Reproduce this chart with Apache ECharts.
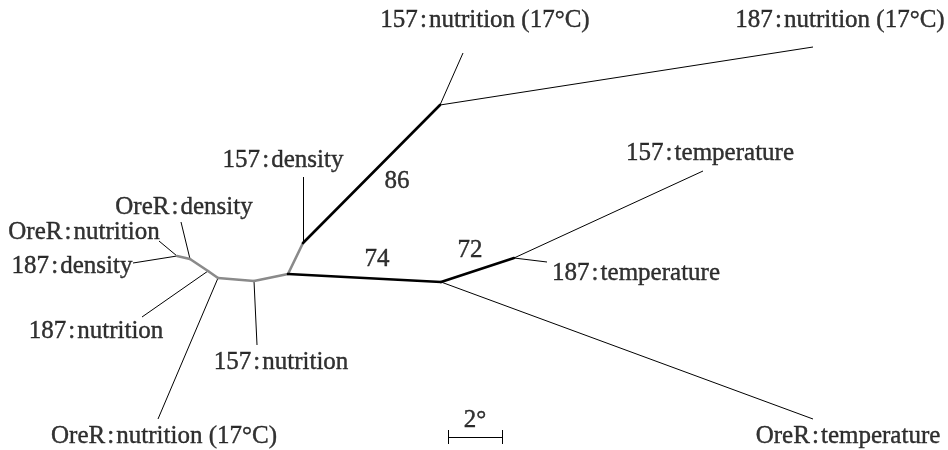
<!DOCTYPE html>
<html>
<head>
<meta charset="utf-8">
<script src="https://cdn.jsdelivr.net/npm/echarts@6/dist/echarts.min.js"></script>
<style>
  html, body { margin: 0; padding: 0; background: #fff; }
  #echarts { width: 948px; height: 450px; }
</style>
</head>
<body>
<div id="echarts"></div>
<script>
// tree drawn in plot units, 27 units = 1 degree
var unitsPerDeg = 27
var sep = '\u200a:\u200a'

// leaves: name, tip position, internal node it hangs from, label centre
var leafNames = ['OreR' + sep + 'nutrition', '187' + sep + 'density', 'OreR' + sep + 'density',
    '187' + sep + 'nutrition', 'OreR' + sep + 'nutrition (17°C)', '157' + sep + 'nutrition',
    '157' + sep + 'density', '157' + sep + 'nutrition (17°C)', '187' + sep + 'nutrition (17°C)',
    '157' + sep + 'temperature', '187' + sep + 'temperature', 'OreR' + sep + 'temperature']
var leafTips = [[159, 241], [133, 263], [181, 222], [142, 317], [158, 419], [257, 345],
    [303, 177], [463, 53], [813, 47], [703, 171], [547, 262], [813, 419]]
var leafParent = [0, 0, 1, 2, 3, 4, 6, 7, 7, 9, 9, 8]
var leafLabelAt = [[84, 232], [72, 266], [184, 207], [96, 331], [164, 436], [281, 362],
    [283, 160], [485, 20], [840, 20], [710, 153], [636, 273], [848, 436]]

// internal nodes
var nodes = [[177, 256], [190, 259], [208, 271], [218, 278], [254, 281],
    [288, 274], [303, 243], [440, 105], [441, 282], [514, 258]]

// unsupported backbone (grey) and supported branches (bold, with bootstrap)
var greyEdges = [[0, 1], [1, 2], [2, 3], [3, 4], [4, 5], [5, 6]]
var boldEdges = [[6, 7], [5, 8], [8, 9]]
var support = [86, 74, 72]
var supportAt = [[397, 181], [377, 259], [470, 250]]

// scale bar
var scaleDeg = 2
var scaleStart = [448, 437]

var chart = echarts.init(document.getElementById('echarts'))

var font = 'Liberation Serif'

var leafLines = []
for (var i = 0; i < leafTips.length; i++) {
    leafLines.push({ coords: [nodes[leafParent[i]], leafTips[i]] })
}
var greyLines = greyEdges.map(function (e) { return { coords: [nodes[e[0]], nodes[e[1]]] } })
var boldLines = boldEdges.map(function (e) { return { coords: [nodes[e[0]], nodes[e[1]]] } })

var sx0 = scaleStart[0], sx1 = scaleStart[0] + scaleDeg * unitsPerDeg, sy = scaleStart[1]
var scaleLines = [
    { coords: [[sx0, sy], [sx1, sy]] },
    { coords: [[sx0, sy - 7], [sx0, sy + 7]] },
    { coords: [[sx1, sy - 7], [sx1, sy + 7]] }
]

var labels = []
for (var j = 0; j < leafNames.length; j++) {
    labels.push({ value: leafLabelAt[j], name: leafNames[j] })
}
for (var k = 0; k < support.length; k++) {
    labels.push({ value: supportAt[k], name: String(support[k]) })
}
labels.push({ value: [(sx0 + sx1) / 2, sy - 17], name: scaleDeg + '°' })

var option = {
    animation: false,
    backgroundColor: '#fff',
    grid: { left: 0, right: 0, top: 0, bottom: 0 },
    xAxis: { type: 'value', min: 0, max: 948, show: false },
    yAxis: { type: 'value', min: 0, max: 450, inverse: true, show: false },
    series: [
        {
            type: 'lines',
            coordinateSystem: 'cartesian2d',
            silent: true,
            lineStyle: { color: '#000', width: 1, opacity: 1 },
            data: leafLines
        },
        {
            type: 'lines',
            coordinateSystem: 'cartesian2d',
            silent: true,
            lineStyle: { color: '#8a8a8a', width: 2.6, opacity: 1, cap: 'round', join: 'round' },
            data: greyLines
        },
        {
            type: 'lines',
            coordinateSystem: 'cartesian2d',
            silent: true,
            lineStyle: { color: '#000', width: 2.6, opacity: 1, cap: 'round' },
            data: boldLines
        },
        {
            type: 'lines',
            coordinateSystem: 'cartesian2d',
            silent: true,
            lineStyle: { color: '#000', width: 1, opacity: 1 },
            data: scaleLines
        },
        {
            type: 'scatter',
            silent: true,
            symbolSize: 0,
            label: {
                show: true,
                position: 'inside',
                formatter: '{b}',
                fontFamily: font,
                fontSize: 25,
                color: '#000',
                textBorderColor: '#000',
                textBorderWidth: 0.4
            },
            data: labels
        }
    ]
}

chart.setOption(option)
</script>
</body>
</html>
